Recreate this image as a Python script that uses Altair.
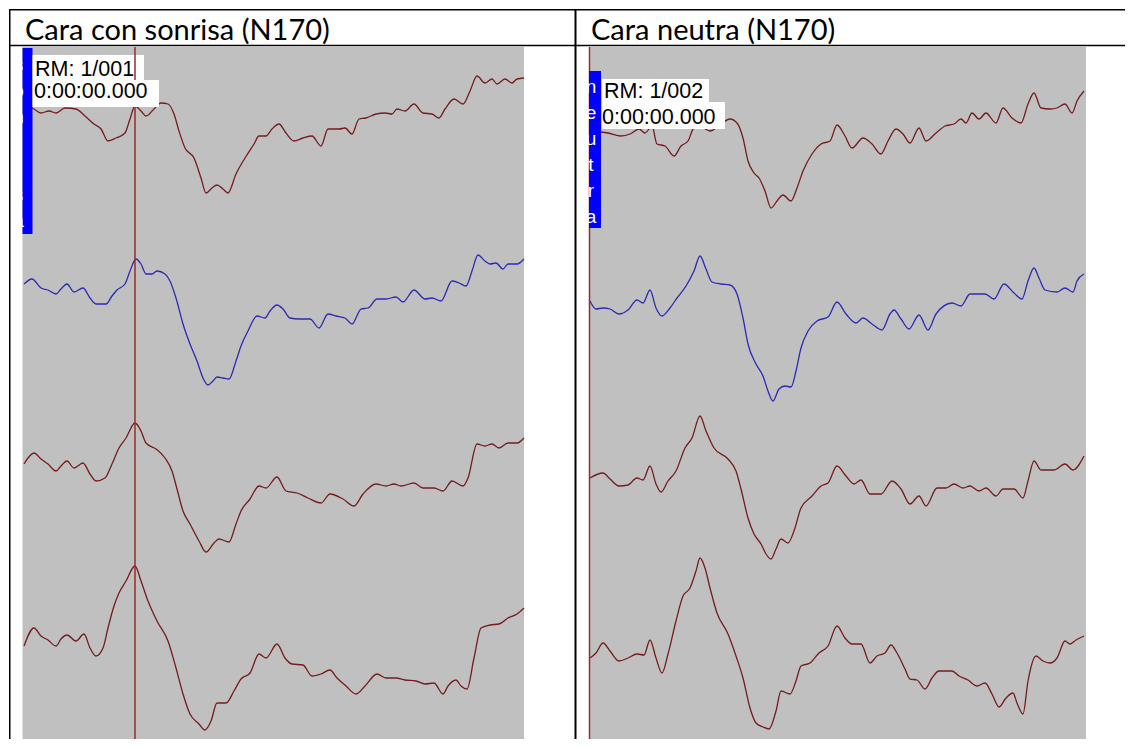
import altair as alt
import pandas as pd

# ---------------- data: ERP traces, time in ms, amplitude (negative up) ----------------
# Left panel "Cara con sonrisa (N170)"
L1_t = [3, 19, 37, 53, 67, 85, 107, 125, 143, 157, 171, 187, 205, 215, 225, 237, 247, 263, 277, 291,
        303, 313, 325, 343, 357, 367, 379, 389, 401, 411, 427, 445, 463, 473, 487, 499, 513, 527, 543, 561,
        579, 597, 611, 633, 645, 659, 673, 687, 707, 725, 739, 749, 765, 783, 801, 819, 833, 845, 863, 881,
        895, 909, 925, 939, 949, 965, 979, 989, 1003]
L1_v = [-5, -3, 2, 0, 2, -3, -2, 5, 13, 18, 30, 27, 22, 8, -5, 0, 5, -2, -8, -7,
        3, 20, 37, 47, 67, 82, 77, 74, 78, 82, 63, 47, 33, 25, 25, 18, 13, 22, 30, 27,
        25, 35, 18, 18, 17, 23, 8, 7, 3, 2, 3, -2, 0, -7, 2, 3, 7, -2, -12, -7,
        -20, -35, -28, -32, -27, -32, -28, -32, -33]

L2_t = [3, 19, 37, 51, 67, 77, 89, 103, 121, 135, 147, 167, 179, 189, 205, 215, 227, 237, 247, 259,
        269, 285, 295, 307, 321, 335, 349, 361, 371, 381, 389, 401, 413, 427, 437, 451, 469, 485, 495, 509,
        521, 535, 553, 575, 593, 611, 627, 645, 659, 677, 691, 709, 727, 747, 761, 783, 805, 819, 837, 859,
        873, 887, 899, 911, 925, 935, 947, 961, 971, 989, 1003]
L2_v = [-2, -7, 2, 4, 8, 3, -2, 6, 2, 12, 18, 18, 10, 4, -2, -15, -27, -22, -12, -12,
        -15, -12, -5, 12, 38, 58, 75, 92, 99, 95, 91, 92, 93, 75, 60, 45, 30, 32, 25, 19,
        23, 32, 33, 33, 42, 28, 30, 32, 38, 23, 22, 13, 13, 11, 16, 4, 13, 12, 15, -5,
        -3, 0, -15, -31, -25, -22, -23, -17, -22, -22, -27]

L3_t = [3, 23, 37, 51, 67, 77, 89, 103, 121, 135, 147, 165, 179, 193, 207, 225, 237, 247, 267, 285,
        299, 309, 321, 335, 353, 367, 383, 393, 413, 427, 437, 455, 473, 487, 509, 527, 549, 571, 597, 615,
        641, 663, 681, 707, 727, 743, 757, 783, 801, 823, 841, 859, 881, 891, 909, 925, 939, 953, 971, 989,
        1003]
L3_v = [3, -8, -2, 3, 10, 5, 0, 7, 2, 13, 20, 17, 3, -13, -23, -38, -30, -18, -12, -3,
        10, 28, 50, 63, 80, 91, 82, 78, 81, 63, 50, 38, 25, 27, 16, 30, 32, 37, 42, 33,
        38, 45, 33, 23, 25, 23, 25, 22, 27, 27, 30, 20, 25, 17, -17, -15, -17, -13, -18, -18,
        -23]

L4_t = [3, 23, 37, 51, 67, 77, 89, 107, 123, 135, 147, 161, 171, 183, 193, 207, 225, 237, 251, 269,
        291, 307, 321, 335, 353, 365, 377, 389, 407, 423, 437, 455, 473, 487, 509, 525, 539, 561, 579, 597,
        615, 629, 647, 667, 685, 709, 727, 747, 765, 787, 805, 823, 841, 851, 867, 877, 889, 903, 917, 935,
        953, 971, 989, 1003]
L4_v = [10, -8, 0, 4, 10, 3, -1, 5, -2, 12, 20, 12, -8, -30, -43, -55, -70, -55, -35, -15,
        5, 32, 58, 78, 88, 94, 85, 67, 67, 55, 43, 37, 18, 22, 8, 22, 28, 29, 40, 38,
        34, 42, 50, 58, 50, 38, 42, 42, 44, 45, 48, 47, 58, 50, 44, 50, 53, 22, -8, -11,
        -12, -18, -22, -28]

# Right panel "Cara neutra (N170)"
R1_t = [2, 38, 64, 82, 100, 112, 126, 136, 152, 170, 184, 198, 210, 224, 242, 264, 282, 296, 308, 318,
        330, 340, 352, 364, 376, 388, 404, 416, 428, 446, 464, 482, 496, 512, 526, 548, 566, 584, 598, 614,
        628, 642, 660, 674, 694, 712, 730, 744, 754, 766, 780, 794, 814, 828, 846, 864, 878, 890, 904, 922,
        936, 952, 966, 976, 990]
R1_v = [5, 7, 10, 8, 3, 7, 0, 18, 20, 30, 20, 15, 2, 1, 5, -2, -7, -3, 12, 35,
        47, 52, 65, 82, 75, 69, 75, 62, 45, 28, 18, 15, -1, 10, 22, 12, 18, 28, 15, 3,
        8, 17, 2, 15, 7, 0, -2, -7, -3, -13, -7, -13, -3, -18, -8, -3, -22, -33, -18, -17,
        -18, -22, -13, -25, -35]

R2_t = [2, 14, 28, 42, 60, 78, 96, 108, 122, 134, 146, 162, 176, 194, 210, 222, 234, 246, 264, 282,
        296, 308, 318, 334, 348, 358, 368, 380, 392, 404, 414, 424, 438, 456, 478, 496, 514, 534, 548, 566,
        586, 602, 610, 624, 640, 660, 678, 694, 726, 744, 762, 792, 810, 830, 850, 866, 878, 890, 900, 912,
        936, 952, 968, 976, 990]
R2_v = [0, 8, 7, 8, 13, 9, -1, 2, -11, 7, 15, 7, -3, -15, -30, -45, -32, -19, -17, -16,
        -7, 17, 43, 63, 75, 90, 100, 88, 85, 86, 70, 47, 30, 20, 16, 1, 13, 22, 17, 23,
        29, 13, 9, 18, 28, 14, 29, 13, 2, 5, -7, -7, -2, -17, -8, -2, -20, -33, -23, -11,
        -9, -13, -9, -20, -27]

R3_t = [2, 28, 42, 60, 78, 96, 108, 122, 134, 144, 158, 174, 192, 206, 222, 234, 250, 278, 294, 304,
        318, 330, 344, 354, 364, 374, 384, 398, 410, 424, 446, 464, 478, 496, 514, 530, 544, 562, 584, 606,
        624, 642, 660, 674, 696, 714, 730, 748, 762, 780, 794, 814, 828, 850, 868, 878, 890, 904, 930, 952,
        968, 990]
R3_v = [2, -3, 3, 10, 9, 2, 4, -10, 8, 16, 5, -5, -28, -38, -60, -45, -28, -17, -5, 13,
        42, 58, 68, 78, 83, 73, 63, 67, 55, 32, 20, 10, 7, -10, 0, 8, 4, 18, 18, 5,
        13, 28, 20, 30, 12, 12, 8, 12, 10, 15, 12, 20, 13, 13, 22, 5, -15, -6, -6, -12,
        -6, -20]

R4_t = [2, 14, 28, 42, 60, 78, 96, 110, 122, 134, 146, 158, 174, 188, 202, 214, 222, 232, 242, 256,
        278, 294, 308, 322, 334, 348, 360, 374, 384, 402, 414, 424, 442, 460, 478, 496, 512, 526, 544, 562,
        576, 592, 604, 616, 632, 642, 656, 672, 686, 700, 726, 740, 758, 776, 792, 806, 820, 834, 848, 856,
        868, 878, 894, 908, 922, 936, 952, 962, 974, 990]
R4_v = [7, 2, -8, 0, 10, 7, 3, 4, -11, 7, 22, 3, -30, -55, -63, -80, -93, -83, -63, -38,
        -17, 5, 27, 57, 72, 76, 78, 60, 40, 43, 30, 15, 12, 2, -5, -25, -13, -7, -7, 12,
        5, 2, -6, 2, 18, 28, 29, 38, 27, 20, 20, 25, 29, 35, 32, 43, 56, 47, 42, 52,
        63, 30, 5, 10, 12, 7, -10, -7, -11, -15]

TITLES = ["Cara con sonrisa (N170)", "Cara neutra (N170)"]
MARKERS = ["RM: 1/001", "RM: 1/002"]
TIMES = ["0:00:00.000", "0:00:00.000"]
BAR_LETTERS_L = ["s", "o", "n", "r", "i", "s", "a"]
BAR_LETTERS_R = ["n", "e", "u", "t", "r", "a"]

# ---------------- styling ----------------
RED = "#741c1c"
BLUE = "#2a2ab4"
GRAY = "#c0c0c0"
CURSOR = "#a02828"
SPACING = 175
W, H = 1117, 731


def frame(ts, vs):
    rows = []
    for ch, (t, v) in enumerate(zip(ts, vs)):
        for a, b in zip(t, v):
            rows.append({"t": a, "v": b, "ch": ch})
    return pd.DataFrame(rows)


left_df = frame([L1_t, L2_t, L3_t, L4_t], [L1_v, L2_v, L3_v, L4_v])
right_df = frame([R1_t, R2_t, R3_t, R4_t], [R1_v, R2_v, R3_v, R4_v])
one = pd.DataFrame({"k": [0]})


def traces(df, x_dom, x_rng, y_rng):
    return alt.Chart(df).transform_calculate(
        pos=f"datum.v + datum.ch * {SPACING}"
    ).mark_line(strokeWidth=1.3, interpolate="monotone").encode(
        x=alt.X("t:Q", scale=alt.Scale(domain=x_dom, range=x_rng, nice=False, zero=False), axis=None),
        y=alt.Y("pos:Q", scale=alt.Scale(domain=[0, 700], range=y_rng, nice=False, zero=False), axis=None),
        color=alt.Color("ch:N", scale=alt.Scale(domain=[0, 1, 2, 3], range=[RED, BLUE, RED, RED]), legend=None),
        detail="ch:N",
    )


def rect(x, x2, y, y2, color):
    return alt.Chart(one).mark_rect(color=color).encode(
        x=alt.value(x), x2=alt.value(x2), y=alt.value(y), y2=alt.value(y2))


def rule(x, x2, y, y2, color, sw):
    return alt.Chart(one).mark_rule(color=color, strokeWidth=sw).encode(
        x=alt.value(x), x2=alt.value(x2), y=alt.value(y), y2=alt.value(y2))


def text(s, x, y, size, font, color="black", align="left", baseline="alphabetic"):
    return alt.Chart(one).mark_text(text=s, fontSize=size, font=font, color=color,
                                    align=align, baseline=baseline).encode(
        x=alt.value(x), y=alt.value(y))


layers = [
    # panel backgrounds
    rect(13.5, 515, 38, H, GRAY),
    rect(580, 1077, 38, H, GRAY),
    # traces
    traces(left_df, [0, 1003], [13.5, 515], [102, 802]),
    traces(right_df, [0, 990], [580, 1075], [117, 817]),
    # cursors
    rule(580.5, 580.5, 38, H, CURSOR, 1.5),
    # blue side bars
    rect(13.5, 23.5, 39, 225, "#0000ff"),
    rect(580, 592, 62, 219, "#0000ff"),
    # label boxes
    rect(23.5, 135, 46, 71, "white"),
    rect(23.5, 150, 71, 98, "white"),
    rect(593, 700, 70, 93, "white"),
    rect(593, 716, 93, 120, "white"),
    rule(126, 126, 38, 71, CURSOR, 1.5),
    rule(126, 126, 98, H, CURSOR, 1.5),
    text(MARKERS[0], 26, 67, 21.5, "Liberation Sans"),
    text(TIMES[0], 25, 89, 21.5, "Liberation Sans"),
    text(MARKERS[1], 595, 89, 21.5, "Liberation Sans"),
    text(TIMES[1], 593, 115, 21.5, "Liberation Sans"),
]
# vertical channel-name letters, partly hidden past the bars' left edges
for i, letter in enumerate(BAR_LETTERS_L):
    layers.append(text(letter, 9.5, 62 + 26 * i, 19, "Liberation Sans", color="white",
                       align="center"))
for i, letter in enumerate(BAR_LETTERS_R):
    layers.append(text(letter, 582, 84 + 26 * i, 19, "Liberation Sans", color="white",
                       align="center"))

layers += [
    # table lines
    rule(0, W, 0.75, 0.75, "black", 1.5),
    rule(0, W, 36.5, 36.5, "black", 1.5),
    rule(0.75, 0.75, 0, H, "black", 1.5),
    rule(566.5, 566.5, 0, H, "black", 2),
    # headers
    text(TITLES[0], 16, 31, 29, "Lato"),
    text(TITLES[1], 582, 31, 29, "Lato"),
]

chart = alt.layer(*layers).resolve_scale(
    x="independent", y="independent", color="independent"
).properties(
    width=W, height=H, padding=0,
    autosize=alt.AutoSizeParams(type="fit", contains="padding"),
).configure_view(stroke="transparent")

chart.save("out.html", embed_options={"renderer": "svg", "actions": False})
